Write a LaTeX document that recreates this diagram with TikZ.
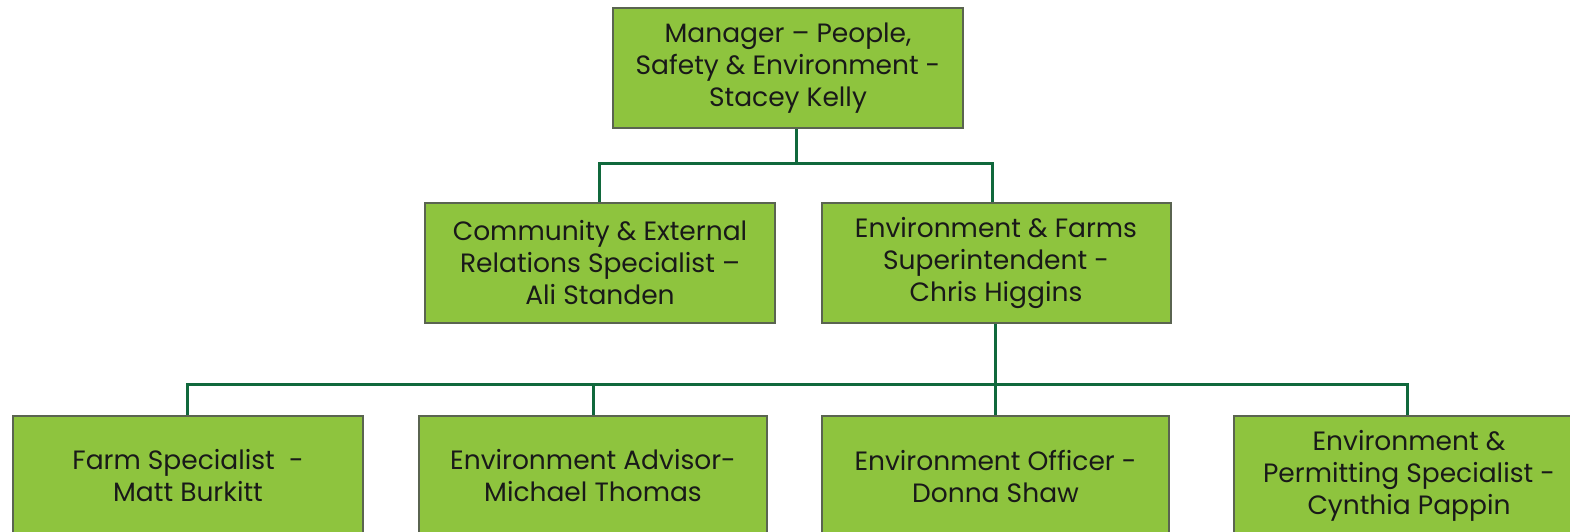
\documentclass[tikz,border=0pt]{standalone}
\usepackage{fontspec}
\setmainfont{Poppins}
\usetikzlibrary{calc}
\definecolor{boxfill}{RGB}{142,196,62}
\definecolor{boxline}{RGB}{90,100,80}
\definecolor{connline}{RGB}{16,104,60}
\tikzset{
  orgbox/.style={draw=boxline, line width=2pt, fill=boxfill, inner sep=0pt,
    minimum height=120pt, align=center, text=black!90,
    font=\fontsize{26.5}{32}\selectfont},
  conn/.style={draw=connline, line width=3pt}
}
\begin{document}
\begin{tikzpicture}[x=1pt,y=-1pt]
\useasboundingbox (0,0) rectangle (1570,531);
\clip (0,0) rectangle (1570,531);
\node[orgbox, minimum width=350pt] (top) at (788,68) {Manager -- People,\\Safety \& Environment -\\Stacey Kelly};
\node[orgbox, minimum width=350pt] (mid1) at (600,263) {Community \& External\\Relations Specialist --\\Ali Standen};
\node[orgbox, minimum width=349pt] (mid2) at (996,263) {Environment \& Farms\\Superintendent -\\Chris Higgins};
\node[orgbox, minimum width=350pt] (b1) at (188,476) {Farm Specialist~ -\\Matt Burkitt};
\node[orgbox, minimum width=348pt] (b2) at (593,476) {Environment Advisor-\\Michael Thomas};
\node[orgbox, minimum width=347pt] (b3) at (995.5,476) {Environment Officer -\\Donna Shaw};
\node[orgbox, minimum width=350pt] (b4) at (1409,476) {\raisebox{6pt}{\begin{tabular}{@{}c@{}}Environment \&\\Permitting Specialist -\\Cynthia Pappin\end{tabular}}};
\coordinate (j1) at ($(top.south)+(8,34)$);
\coordinate (j2) at ($(mid2.south)+(-1,60)$);
\draw[conn] ($(top.south)+(8,0)$) -- (j1);
\draw[conn] ($(mid1.north)+(-1,0)$) |- (j1) -| ($(mid2.north)+(-4,0)$);
\draw[conn] ($(mid2.south)+(-1,0)$) -- (j2 |- b3.north);
\draw[conn] ($(b1.north)+(-1,0)$) |- (j2) -| ($(b4.north)+(-2,0)$);
\draw[conn] (b2.north) -- (b2.north |- j2);
\end{tikzpicture}
\end{document}
